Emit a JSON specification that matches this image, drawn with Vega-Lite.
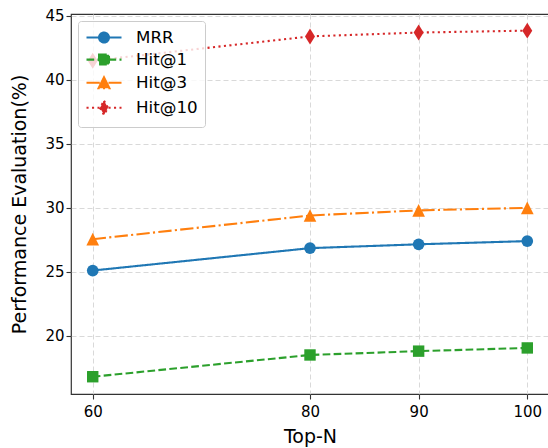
{
  "$schema": "https://vega.github.io/schema/vega-lite/v6.json",
  "width": 478,
  "height": 380,
  "autosize": "none",
  "padding": {"left": 71, "top": 14, "right": 0, "bottom": 54},
  "background": "white",
  "config": {
    "font": "DejaVu Sans",
    "view": {"stroke": "#333333", "strokeWidth": 1.2},
    "axis": {
      "domain": false,
      "tickColor": "#333333",
      "tickWidth": 1.1,
      "tickSize": 5,
      "labelFont": "DejaVu Sans",
      "labelFontSize": 15,
      "labelColor": "#000000",
      "titleFont": "DejaVu Sans",
      "titleFontSize": 19,
      "titleFontWeight": "normal",
      "titleColor": "#000000",
      "grid": true,
      "gridDash": [5, 3],
      "gridColor": "#d9d9d9",
      "gridWidth": 1
    },
    "legend": {
      "orient": "top-left",
      "offset": 7,
      "padding": 7,
      "fillColor": "rgba(255,255,255,0.8)",
      "strokeColor": "#cccccc",
      "strokeWidth": 1,
      "cornerRadius": 3,
      "labelFont": "DejaVu Sans",
      "labelFontSize": 16.7,
      "labelColor": "#000000",
      "labelLimit": 0,
      "symbolStrokeWidth": 2.1,
      "symbolSize": 256,
      "symbolOpacity": 1,
      "rowPadding": 3.1,
      "labelOffset": 32
    }
  },
  "data": {
    "values": [
      {"N": 60, "series": "MRR", "value": 25.1},
      {"N": 80, "series": "MRR", "value": 26.85},
      {"N": 90, "series": "MRR", "value": 27.15},
      {"N": 100, "series": "MRR", "value": 27.4},
      {"N": 60, "series": "Hit@1", "value": 16.8},
      {"N": 80, "series": "Hit@1", "value": 18.5},
      {"N": 90, "series": "Hit@1", "value": 18.8},
      {"N": 100, "series": "Hit@1", "value": 19.05},
      {"N": 60, "series": "Hit@3", "value": 27.55},
      {"N": 80, "series": "Hit@3", "value": 29.4},
      {"N": 90, "series": "Hit@3", "value": 29.8},
      {"N": 100, "series": "Hit@3", "value": 30.0},
      {"N": 60, "series": "Hit@10", "value": 41.5},
      {"N": 80, "series": "Hit@10", "value": 43.4},
      {"N": 90, "series": "Hit@10", "value": 43.7},
      {"N": 100, "series": "Hit@10", "value": 43.85}
    ]
  },
  "encoding": {
    "x": {
      "field": "N",
      "type": "quantitative",
      "scale": {"domain": [58, 102], "nice": false, "zero": false},
      "axis": {"values": [60, 80, 90, 100], "title": "Top-N", "labelPadding": 5, "titlePadding": 8}
    },
    "y": {
      "field": "value",
      "type": "quantitative",
      "scale": {"domain": [15.45, 45.15], "nice": false, "zero": false},
      "axis": {"values": [20, 25, 30, 35, 40, 45], "title": "Performance Evaluation(%)", "labelPadding": 2, "titlePadding": 15}
    }
  },
  "layer": [
    {
      "mark": {"type": "point", "filled": true, "opacity": 0, "size": 256},
      "encoding": {
        "color": {
          "field": "series",
          "type": "nominal",
          "scale": {"domain": ["MRR", "Hit@1", "Hit@3", "Hit@10"], "range": ["#1f77b4", "#2ca02c", "#ff7f0e", "#d62728"]},
          "legend": {"title": null}
        },
        "stroke": {
          "field": "series",
          "type": "nominal",
          "scale": {"domain": ["MRR", "Hit@1", "Hit@3", "Hit@10"], "range": ["#1f77b4", "#2ca02c", "#ff7f0e", "#d62728"]},
          "legend": {"title": null}
        },
        "strokeDash": {
          "field": "series",
          "type": "nominal",
          "scale": {"domain": ["MRR", "Hit@1", "Hit@3", "Hit@10"], "range": [[1, 0], [7.7, 3.3], [13.3, 3.3, 2.1, 3.3], [2.1, 3.4]]},
          "legend": {"title": null}
        },
        "shape": {
          "field": "series",
          "type": "nominal",
          "scale": {
            "domain": ["MRR", "Hit@1", "Hit@3", "Hit@10"],
            "range": [
              "M-1,0H3.375M1.8075,0A0.62,0.62,0,1,1,0.5675,0A0.62,0.62,0,1,1,1.8075,0Z",
              "M-1,0H3.375M0.5675,-0.62H1.8075V0.62H0.5675Z",
              "M-1,0H3.375M1.1875,-0.68L0.5075,0.68L1.8675,0.68Z",
              "M-1,0H3.375M1.1875,-0.875L1.6875,0L1.1875,0.875L0.6875,0Z"
            ]
          },
          "legend": {"title": null}
        }
      }
    },
    {
      "mark": {"type": "line", "strokeWidth": 2.1},
      "encoding": {
        "color": {"field": "series", "type": "nominal"},
        "strokeDash": {"field": "series", "type": "nominal"}
      }
    },
    {
      "transform": [{"filter": "datum.series === 'MRR'"}],
      "mark": {"type": "point", "filled": true, "opacity": 1, "size": 137, "shape": "circle"},
      "encoding": {"color": {"field": "series", "type": "nominal"}}
    },
    {
      "transform": [{"filter": "datum.series === 'Hit@1'"}],
      "mark": {"type": "point", "filled": true, "opacity": 1, "size": 130, "shape": "square"},
      "encoding": {"color": {"field": "series", "type": "nominal"}}
    },
    {
      "transform": [{"filter": "datum.series === 'Hit@3'"}],
      "mark": {"type": "point", "filled": true, "opacity": 1, "size": 140, "shape": "M0,-1.07L-1.07,1.07L1.07,1.07Z"},
      "encoding": {"color": {"field": "series", "type": "nominal"}}
    },
    {
      "transform": [{"filter": "datum.series === 'Hit@10'"}],
      "mark": {"type": "point", "filled": true, "opacity": 1, "size": 140, "shape": "M0,-1.35L0.845,0L0,1.35L-0.845,0Z"},
      "encoding": {"color": {"field": "series", "type": "nominal"}}
    }
  ]
}
